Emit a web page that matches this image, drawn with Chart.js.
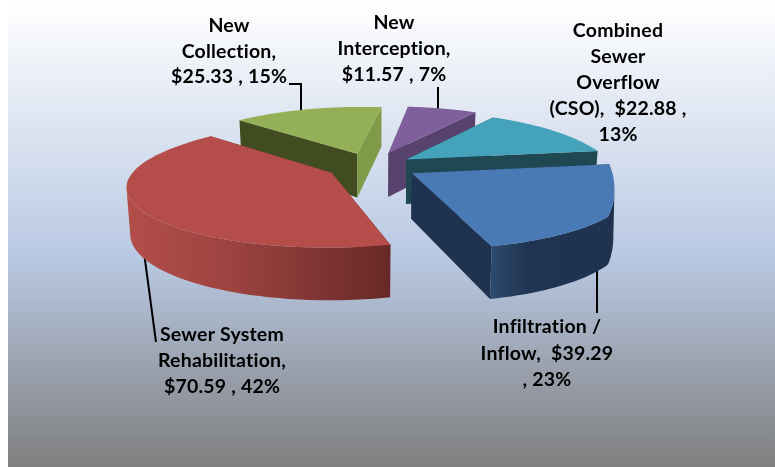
<!DOCTYPE html>
<html>
<head>
<meta charset="utf-8">
<title>Pie</title>
<script src="https://cdn.jsdelivr.net/npm/chart.js@4"></script>
<style>
  html, body { margin: 0; padding: 0; background: #fff; }
  #wrap { width: 775px; height: 467px; }
</style>
</head>
<body>
<div id="wrap"><canvas id="chartCanvas"></canvas></div>
<script>
const categories = ['Infiltration / Inflow', 'Sewer System Rehabilitation', 'New Collection', 'New Interception', 'Combined Sewer Overflow (CSO)'];
const values = [39.29, 70.59, 25.33, 11.57, 22.88];
const percents = [23, 42, 15, 7, 13];

// colours of each slice: top face, start wall, end wall
const topColors = ['#4a7ab5', '#b54d4a', '#93b056', '#7f609b', '#44a3bb'];
const startWalls = ['#1f3350', '#7a2f2d', '#414d20', '#58436f', '#1f4853'];
const endWalls = ['#1f3350', '#7a2f2d', '#7f9a48', '#58436f', '#1f4853'];
const rimStops = [
  [[0, '#2e4a6f'], [0.3, '#1f3450'], [1, '#1f3350']],
  [[0, '#b34e4a'], [0.4, '#9c4340'], [1, '#672927']],
  [[0, '#414d20'], [1, '#7f9a48']],
  [[0, '#58436f'], [1, '#58436f']],
  [[0, '#1f4853'], [1, '#1f4853']]
];
const explode = [46, 46, 48, 50, 42];

// label text, wrapped like the original
const labelLines = [
  ['Infiltration /', 'Inflow,  $' + values[0] + '', ', ' + percents[0] + '%'],
  ['Sewer System', 'Rehabilitation,', '$' + values[1] + ' , ' + percents[1] + '%'],
  ['New', 'Collection,', '$' + values[2] + ' , ' + percents[2] + '%'],
  ['New', 'Interception,', '$' + values[3] + ' , ' + percents[3] + '%'],
  ['Combined', 'Sewer', 'Overflow', '(CSO),  $' + values[4] + ' ,', percents[4] + '%']
];
const labelSpots = [
  { x: 547, y: 333, gap: 26.5 },
  { x: 222, y: 341, gap: 26 },
  { x: 229, y: 32, gap: 25.5 },
  { x: 394, y: 29, gap: 26 },
  { x: 618, y: 37, gap: 26 }
];
const leaders = [
  [[597, 240], [597, 313]],
  [[143, 245], [156, 342]],
  [[301, 118], [301, 84], [289, 84]],
  [[438, 118], [438, 87]]
];

// fake camera for the 3D look
const camDist = 1000, tilt = 0.285, sideLean = 0.1, depth = 45;

function project(cx, cy, X, Y, bottom) {
  const s = camDist / (camDist - Y - sideLean * X);
  let px = X * (bottom ? s * 0.985 : s);
  if (px > 236) px = 236 + (px - 236) * 0.3; // right side bulges too much otherwise
  const backLift = 0.08 * Math.max(0, -Y - 80);
  return {
    x: cx + px,
    y: cy + tilt * (Y - backLift) * s + (bottom ? depth * (0.4 + 0.6 * s) : 0)
  };
}

function fillPoly(ctx, pts, fill) {
  ctx.beginPath();
  pts.forEach((p, i) => (i ? ctx.lineTo(p.x, p.y) : ctx.moveTo(p.x, p.y)));
  ctx.closePath();
  ctx.fillStyle = fill;
  ctx.fill();
}

function drawSlice(ctx, el, i) {
  const mid = (el.startAngle + el.endAngle) / 2;
  const ox = el.options.offset * Math.cos(mid);
  const oy = el.options.offset * Math.sin(mid);
  const topArc = [], botArc = [];
  const steps = 64;
  for (let k = 0; k <= steps; k++) {
    const a = el.startAngle + (el.endAngle - el.startAngle) * k / steps;
    const X = ox + el.outerRadius * Math.cos(a);
    const Y = oy + el.outerRadius * Math.sin(a);
    topArc.push(project(el.x, el.y, X, Y, false));
    botArc.push(project(el.x, el.y, X, Y, true));
  }
  const apexTop = project(el.x, el.y, ox, oy, false);
  const apexBot = project(el.x, el.y, ox, oy, true);

  fillPoly(ctx, [apexTop, topArc[0], botArc[0], apexBot], startWalls[i]);
  fillPoly(ctx, [apexTop, topArc[steps], botArc[steps], apexBot], endWalls[i]);

  // outer rim, only the run of points that faces the viewer
  let first = -1, last = -1;
  for (let k = 0; k < steps; k++) {
    if (topArc[k + 1].x < topArc[k].x) {
      if (first < 0) first = k;
      last = k + 1;
    }
  }
  if (first >= 0) {
    const xs = topArc.map(p => p.x);
    const grad = ctx.createLinearGradient(Math.min(...xs), 0, Math.max(...xs), 0);
    rimStops[i].forEach(st => grad.addColorStop(st[0], st[1]));
    const rimTop = topArc.slice(first, last + 1);
    const rimBot = botArc.slice(first, last + 1).reverse();
    fillPoly(ctx, rimTop.concat(rimBot), grad);
  }

  fillPoly(ctx, [apexTop].concat(topArc), el.options.backgroundColor);
}

const pie3d = {
  id: 'pie3d',
  beforeDraw(chart) {
    const { ctx, width, height } = chart;
    const bg = ctx.createLinearGradient(0, 0, 0, height);
    bg.addColorStop(0, '#ffffff');
    bg.addColorStop(0.55, '#b9c9e3');
    bg.addColorStop(1, '#7f7f7f');
    ctx.fillStyle = bg;
    ctx.fillRect(8, 0, width - 8, height);
  },
  beforeDatasetsDraw(chart) {
    const ctx = chart.ctx;
    const arcs = chart.getDatasetMeta(0).data;

    ctx.strokeStyle = '#000';
    ctx.lineWidth = 2;
    leaders.forEach(line => {
      ctx.beginPath();
      line.forEach((p, k) => (k ? ctx.lineTo(p[0], p[1]) : ctx.moveTo(p[0], p[1])));
      ctx.stroke();
    });

    const order = arcs.map((el, i) => i).sort((a, b) => {
      const ya = Math.sin((arcs[a].startAngle + arcs[a].endAngle) / 2);
      const yb = Math.sin((arcs[b].startAngle + arcs[b].endAngle) / 2);
      return ya - yb;
    });
    order.forEach(i => drawSlice(ctx, arcs[i], i));

    ctx.fillStyle = '#000';
    ctx.font = 'bold 19.5px Lato';
    ctx.letterSpacing = '0.2px';
    ctx.textAlign = 'center';
    ctx.textBaseline = 'alphabetic';
    labelLines.forEach((lines, i) => {
      const spot = labelSpots[i];
      lines.forEach((txt, k) => ctx.fillText(txt, spot.x, spot.y + k * spot.gap));
    });
    return false;
  }
};

new Chart(document.getElementById('chartCanvas').getContext('2d'), {
  type: 'pie',
  data: {
    labels: categories,
    datasets: [{
      data: values,
      backgroundColor: topColors,
      borderWidth: 0,
      offset: explode,
      radius: 200
    }]
  },
  options: {
    responsive: true,
    maintainAspectRatio: false,
    animation: false,
    rotation: 81,
    layout: { padding: { right: 31, bottom: 135 } },
    plugins: { legend: { display: false }, tooltip: { enabled: false } }
  },
  plugins: [pie3d]
});
</script>
</body>
</html>
